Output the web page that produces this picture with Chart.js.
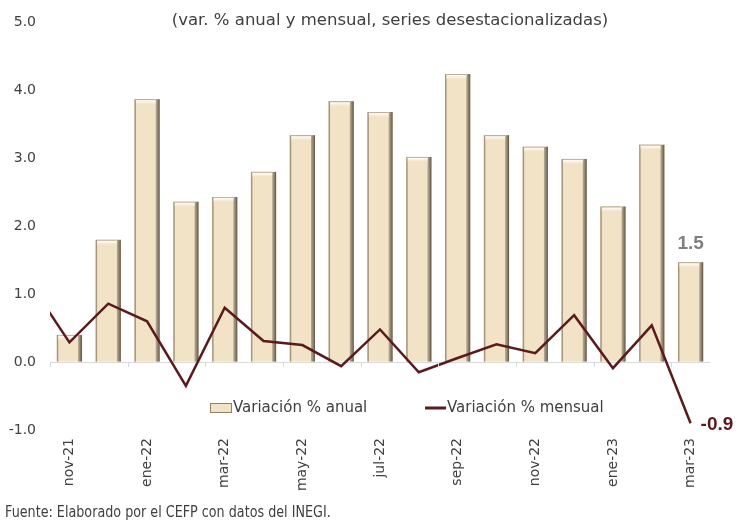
<!DOCTYPE html>
<html>
<head>
<meta charset="utf-8">
<script src="https://cdn.jsdelivr.net/npm/chart.js@4"></script>
<style>
  body { margin: 0; background: #fff; }
  #wrap { position: relative; width: 747px; height: 521px; }
  #titulo { position: absolute; top: 10px; left: 0; width: 780px; text-align: center;
            font: 16.5px "DejaVu Sans"; color: #404040; white-space: nowrap; }
  #fuente { position: absolute; top: 503px; left: 5px; font: 15px "DejaVu Sans"; color: #404040;
            white-space: nowrap; transform-origin: left top; transform: scaleX(0.85); }
</style>
</head>
<body>
<div id="wrap">
  <canvas id="myChart" width="747" height="521"></canvas>
  <div id="titulo">(var. % anual y mensual, series desestacionalizadas)</div>
  <div id="fuente">Fuente: Elaborado por el CEFP con datos del INEGI.</div>
</div>
<script>
var meses = ['nov-21', 'dic-21', 'ene-22', 'feb-22', 'mar-22', 'abr-22', 'may-22', 'jun-22', 'jul-22',
             'ago-22', 'sep-22', 'oct-22', 'nov-22', 'dic-22', 'ene-23', 'feb-23', 'mar-23'];
var anual = [0.40, 1.80, 3.87, 2.36, 2.43, 2.80, 3.34, 3.84, 3.68, 3.02, 4.24, 3.34, 3.17, 2.99, 2.29, 3.20, 1.47];
// oct-21 value, only the tail of its segment shows at the left edge
var mensualOct21 = 1.15;
var mensual = [0.29, 0.86, 0.60, -0.35, 0.80, 0.31, 0.25, -0.06, 0.48, -0.15, 0.06, 0.26, 0.13, 0.69, -0.09, 0.54, -0.90];
var yMin = -1, yMax = 5, yStep = 1;

var colorBarra = '#f2e2c6';
var bordeBarra = '#8f826d';
var colorLinea = '#5a1a1e';
var gris = '#404040';

// line points on a hidden linear axis so the oct-21 point can sit left of the first bar
var puntosMensual = [{ x: -1, y: mensualOct21 }];
for (let i = 0; i < mensual.length; i++) {
    puntosMensual.push({ x: i, y: mensual[i] });
}

// bevel look on the bars (drawn before the line)
var bisel = {
    id: 'bisel',
    afterDatasetDraw: function (chart, args) {
        if (args.index !== 0) return;
        var ctx = chart.ctx;
        ctx.save();
        args.meta.data.forEach(function (bar) {
            var p = bar.getProps(['x', 'y', 'base', 'width'], true);
            var l = p.x - p.width / 2, r = p.x + p.width / 2;
            var t = p.y, b = p.base;
            var h = b - t;
            var g = ctx.createLinearGradient(r - 4, 0, r, 0);
            g.addColorStop(0, 'rgba(150,138,115,0.6)');
            g.addColorStop(1, '#5c5242');
            ctx.fillStyle = g;
            ctx.fillRect(r - 4, t, 4, h);
            ctx.fillStyle = '#a3977f';
            ctx.fillRect(l, t, 1.5, h);
            var gt = ctx.createLinearGradient(0, t, 0, t + 5);
            gt.addColorStop(0, '#9b8f79');
            gt.addColorStop(0.3, '#fffaf0');
            gt.addColorStop(1, colorBarra);
            ctx.fillStyle = gt;
            ctx.fillRect(l + 1.5, t, p.width - 5.5, Math.min(5, h));
        });
        ctx.restore();
    }
};

var extras = {
    id: 'extras',
    afterDraw: function (chart) {
        var ctx = chart.ctx;
        var x = chart.scales.x;
        var y = chart.scales.y;
        var y0 = y.getPixelForValue(0);
        var half = (x.getPixelForValue(1) - x.getPixelForValue(0)) / 2;
        ctx.save();

        // small tick marks on the zero line
        ctx.strokeStyle = '#d9d9d9';
        ctx.lineWidth = 1;
        for (let i = 0; i < meses.length; i += 2) {
            var px = Math.round(x.getPixelForValue(i) - half) + 0.5;
            ctx.beginPath();
            ctx.moveTo(px, y0);
            ctx.lineTo(px, y0 + 5);
            ctx.stroke();
        }

        // value labels
        var barras = chart.getDatasetMeta(0).data;
        var ult = barras[barras.length - 1];
        ctx.font = 'bold 19px "Liberation Sans"';
        ctx.fillStyle = '#808080';
        ctx.textAlign = 'center';
        ctx.textBaseline = 'bottom';
        ctx.fillText(anual[anual.length - 1].toFixed(1), ult.x, ult.y - 9);

        var pts = chart.getDatasetMeta(1).data;
        var p = pts[pts.length - 1];
        ctx.fillStyle = colorLinea;
        ctx.textAlign = 'left';
        ctx.textBaseline = 'middle';
        ctx.fillText(mensual[mensual.length - 1].toFixed(1), p.x + 10, p.y + 2);

        // legend inside the plot
        var ly = 408;
        ctx.fillStyle = colorBarra;
        ctx.strokeStyle = bordeBarra;
        ctx.fillRect(210, ly - 5, 22, 10);
        ctx.strokeRect(210.5, ly - 4.5, 21, 9);
        ctx.font = '15px "DejaVu Sans"';
        ctx.fillStyle = gris;
        ctx.fillText('Variación % anual', 233, ly);
        ctx.strokeStyle = colorLinea;
        ctx.lineWidth = 3;
        ctx.beginPath();
        ctx.moveTo(425, ly);
        ctx.lineTo(446, ly);
        ctx.stroke();
        ctx.fillText('Variación % mensual', 447, ly);
        ctx.restore();
    }
};

var ctx = document.getElementById('myChart').getContext('2d');
var myChart = new Chart(ctx, {
    type: 'bar',
    data: {
        labels: meses,
        datasets: [{
            label: 'Variación % anual',
            data: anual,
            backgroundColor: colorBarra,
            borderColor: bordeBarra,
            borderWidth: 0,
            grouped: false,
            categoryPercentage: 1,
            barPercentage: 0.65,
            order: 2
        },
        {
            type: 'line',
            label: 'Variación % mensual',
            data: puntosMensual,
            xAxisID: 'x2',
            borderColor: colorLinea,
            backgroundColor: colorLinea,
            borderWidth: 2.5,
            pointRadius: 0,
            tension: 0,
            order: 1
        }]
    },
    options: {
        responsive: false,
        animation: false,
        layout: { padding: { left: 0, top: 19, right: 37, bottom: 0 } },
        plugins: {
            legend: { display: false },
            tooltip: { enabled: false }
        },
        scales: {
            x: {
                offset: true,
                grid: { display: false, drawTicks: false },
                border: { display: false },
                afterFit: function (scale) { scale.height = 91; },
                ticks: {
                    autoSkip: false,
                    minRotation: 90,
                    maxRotation: 90,
                    padding: 8,
                    color: gris,
                    font: { family: 'DejaVu Sans', size: 14 },
                    callback: function (v, i) { return i % 2 === 0 ? meses[i] : ''; }
                }
            },
            x2: {
                type: 'linear',
                display: false,
                offset: false,
                bounds: 'ticks',
                min: -0.5,
                max: meses.length - 0.5
            },
            y: {
                min: yMin,
                max: yMax,
                border: { display: false },
                afterFit: function (scale) { scale.width = 50; },
                grid: {
                    drawTicks: false,
                    color: function (c) { return c.tick && c.tick.value === 0 ? '#d9d9d9' : 'rgba(0,0,0,0)'; }
                },
                ticks: {
                    stepSize: yStep,
                    padding: 14,
                    color: gris,
                    font: { family: 'DejaVu Sans', size: 14 },
                    callback: function (v) { return v.toFixed(1); }
                }
            }
        }
    },
    plugins: [bisel, extras]
});
</script>
</body>
</html>
